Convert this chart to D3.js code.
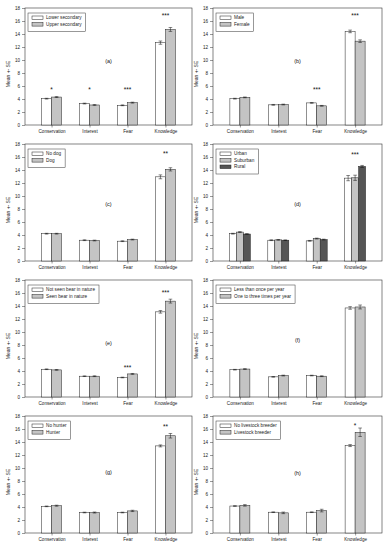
<!DOCTYPE html>
<html><head><meta charset="utf-8">
<script src="https://cdn.jsdelivr.net/npm/d3@7"></script>
<style>body{margin:0;background:#fff}svg{display:block}text{font-family:"Liberation Sans",Arial,sans-serif}</style>
</head><body>
<svg id="c" width="388" height="550"></svg>
<script>
const categories = ["Conservation", "Interest", "Fear", "Knowledge"];
const yTicks = [0, 2, 4, 6, 8, 10, 12, 14, 16, 18];
const yTitle = "Mean +- SE";

const legendA = ["Lower secondary", "Upper secondary"];
const valuesA = [[4.05, 3.3, 3.03, 12.67], [4.3, 3.08, 3.44, 14.7]];
const errorsA = [[0.06, 0.06, 0.06, 0.25], [0.07, 0.06, 0.07, 0.3]];
const starsA = ["*", "*", "***", "***"];
const starYA = [5.6, 5.6, 5.6, 17.0];

const legendB = ["Male", "Female"];
const valuesB = [[4.05, 3.1, 3.4, 14.4], [4.25, 3.15, 2.95, 12.9]];
const errorsB = [[0.06, 0.06, 0.06, 0.2], [0.06, 0.06, 0.06, 0.2]];
const starsB = ["", "", "***", "***"];
const starYB = [0, 0, 5.5, 16.9];

const legendC = ["No dog", "Dog"];
const valuesC = [[4.2, 3.2, 3.05, 12.95], [4.2, 3.15, 3.3, 14.1]];
const errorsC = [[0.06, 0.06, 0.06, 0.3], [0.06, 0.06, 0.06, 0.25]];
const starsC = ["", "", "", "**"];
const starYC = [0, 0, 0, 16.6];

const legendD = ["Urban", "Suburban", "Rural"];
const valuesD = [[4.2, 3.2, 3.1, 12.75], [4.45, 3.25, 3.45, 12.8], [4.15, 3.2, 3.3, 14.55]];
const errorsD = [[0.06, 0.06, 0.06, 0.4], [0.07, 0.06, 0.07, 0.4], [0.06, 0.05, 0.06, 0.15]];
const starsD = ["", "", "", "***"];
const starYD = [0, 0, 0, 16.5];

const legendE = ["Not seen bear in nature", "Seen bear in nature"];
const valuesE = [[4.27, 3.2, 3.0, 13.1], [4.17, 3.2, 3.55, 14.75]];
const errorsE = [[0.05, 0.05, 0.05, 0.2], [0.06, 0.06, 0.07, 0.3]];
const starsE = ["", "", "***", "***"];
const starYE = [0, 0, 4.7, 16.2];

const legendF = ["Less than once per year", "One to three times per year"];
const valuesF = [[4.2, 3.1, 3.3, 13.7], [4.3, 3.3, 3.2, 13.85]];
const errorsF = [[0.05, 0.05, 0.05, 0.2], [0.06, 0.06, 0.06, 0.3]];
const starsF = ["", "", "", ""];
const starYF = [0, 0, 0, 0];

const legendG = ["No hunter", "Hunter"];
const valuesG = [[4.1, 3.15, 3.15, 13.4], [4.2, 3.15, 3.4, 14.96]];
const errorsG = [[0.05, 0.05, 0.05, 0.15], [0.08, 0.08, 0.1, 0.35]];
const starsG = ["", "", "", "**"];
const starYG = [0, 0, 0, 16.5];

const legendH = ["No livestock breeder", "Livestock breeder"];
const valuesH = [[4.15, 3.2, 3.2, 13.45], [4.25, 3.1, 3.45, 15.5]];
const errorsH = [[0.05, 0.05, 0.05, 0.15], [0.12, 0.12, 0.2, 0.65]];
const starsH = ["", "", "", "*"];
const starYH = [0, 0, 0, 16.6];

const panelLetters = ["(a)", "(b)", "(c)", "(d)", "(e)", "(f)", "(g)", "(h)"];
const letterY = [9.8, 9.8, 8.8, 8.8, 8.3, 8.8, 9.4, 9.3];

const twoColors = ["#ffffff", "#c4c4c4"];
const threeColors = ["#ffffff", "#c4c4c4", "#555555"];

const panels = [
  {legend: legendA, values: valuesA, errors: errorsA, stars: starsA, starY: starYA},
  {legend: legendB, values: valuesB, errors: errorsB, stars: starsB, starY: starYB},
  {legend: legendC, values: valuesC, errors: errorsC, stars: starsC, starY: starYC},
  {legend: legendD, values: valuesD, errors: errorsD, stars: starsD, starY: starYD},
  {legend: legendE, values: valuesE, errors: errorsE, stars: starsE, starY: starYE},
  {legend: legendF, values: valuesF, errors: errorsF, stars: starsF, starY: starYF},
  {legend: legendG, values: valuesG, errors: errorsG, stars: starsG, starY: starYG},
  {legend: legendH, values: valuesH, errors: errorsH, stars: starsH, starY: starYH}
];

const svg = d3.select("#c");
const colX = [[25, 192], [213, 382]];
const rowTop = [8, 144, 280, 416];
const plotH = 117;
const axisColor = "#333";

panels.forEach((p, i) => {
  const col = i % 2, row = Math.floor(i / 2);
  const [x0, x1] = colX[col];
  const top = rowTop[row], bottom = top + plotH;
  const g = svg.append("g");
  const y = d3.scaleLinear().domain([0, 18]).range([bottom, top]);
  const x = d3.scalePoint().domain(categories).range([x0, x1]).padding(0.7);
  const nS = p.legend.length;
  const colors = nS === 3 ? threeColors : twoColors;
  const groupW = nS === 3 ? 21 : 20;
  const inner = d3.scaleBand().domain(d3.range(nS)).range([-groupW / 2, groupW / 2]);

  // frame
  g.append("rect").attr("x", x0).attr("y", top).attr("width", x1 - x0).attr("height", plotH)
    .attr("fill", "none").attr("stroke", axisColor).attr("stroke-width", 0.6);

  // y axis
  const ya = g.append("g").attr("transform", `translate(${x0},0)`)
    .call(d3.axisLeft(y).tickValues(yTicks).tickSize(3).tickPadding(2));
  ya.select(".domain").remove();
  ya.selectAll("line").attr("stroke", axisColor).attr("stroke-width", 0.5);
  ya.selectAll("text").attr("font-size", 4.6).attr("fill", "#222").attr("font-family", null);

  // x axis
  const xa = g.append("g").attr("transform", `translate(0,${bottom})`)
    .call(d3.axisBottom(x).tickSize(2.5).tickPadding(2.5));
  xa.select(".domain").remove();
  xa.selectAll("line").attr("stroke", axisColor).attr("stroke-width", 0.5);
  xa.selectAll("text").attr("font-size", 4.6).attr("fill", "#222").attr("font-family", null);

  // y title
  g.append("text").attr("transform", `translate(${x0 - 15},${top + 66}) rotate(-90)`)
    .attr("text-anchor", "middle").attr("font-size", 5).attr("fill", "#222").text(yTitle);

  // bars
  p.values.forEach((vals, s) => {
    vals.forEach((v, c) => {
      const bx = x(categories[c]) + inner(s);
      g.append("rect").attr("x", bx).attr("y", y(v)).attr("width", inner.bandwidth())
        .attr("height", y(0) - y(v)).attr("fill", colors[s]).attr("stroke", "#222").attr("stroke-width", 0.5);
      const e = p.errors[s][c];
      const cx = bx + inner.bandwidth() / 2, cw = 1.8;
      g.append("line").attr("x1", cx).attr("x2", cx).attr("y1", y(v - e)).attr("y2", y(v + e))
        .attr("stroke", "#111").attr("stroke-width", 0.5);
      [v - e, v + e].forEach(ev => g.append("line").attr("x1", cx - cw).attr("x2", cx + cw)
        .attr("y1", y(ev)).attr("y2", y(ev)).attr("stroke", "#111").attr("stroke-width", 0.5));
    });
  });

  // stars
  p.stars.forEach((st, c) => {
    if (!st) return;
    g.append("text").attr("x", x(categories[c])).attr("y", y(p.starY[c]) + 3.2)
      .attr("text-anchor", "middle").attr("font-size", 6.5).attr("fill", "#111").text(st);
  });

  // panel letter
  g.append("text").attr("x", (x(categories[1]) + x(categories[2])) / 2).attr("y", y(letterY[i]) + 2)
    .attr("text-anchor", "middle").attr("font-size", 5.5).attr("fill", "#111").text(panelLetters[i]);

  // legend
  const lg = g.append("g");
  const lx = x0 + 3, ly = top + 5, rowH = 6.5;
  const texts = [];
  p.legend.forEach((name, s) => {
    lg.append("rect").attr("x", lx + 4).attr("y", ly + 3 + s * rowH).attr("width", 11).attr("height", 3.6)
      .attr("fill", colors[s]).attr("stroke", "#222").attr("stroke-width", 0.5);
    texts.push(lg.append("text").attr("x", lx + 18).attr("y", ly + 6.4 + s * rowH)
      .attr("font-size", 4.7).attr("fill", "#222").text(name));
  });
  const maxW = d3.max(texts, t => t.node().getComputedTextLength());
  lg.insert("rect", ":first-child").attr("x", lx).attr("y", ly).attr("width", 18 + maxW + 4)
    .attr("height", 3 + nS * rowH + 2.5).attr("fill", "#fff").attr("stroke", "#333").attr("stroke-width", 0.5);
});
</script>
</body></html>
